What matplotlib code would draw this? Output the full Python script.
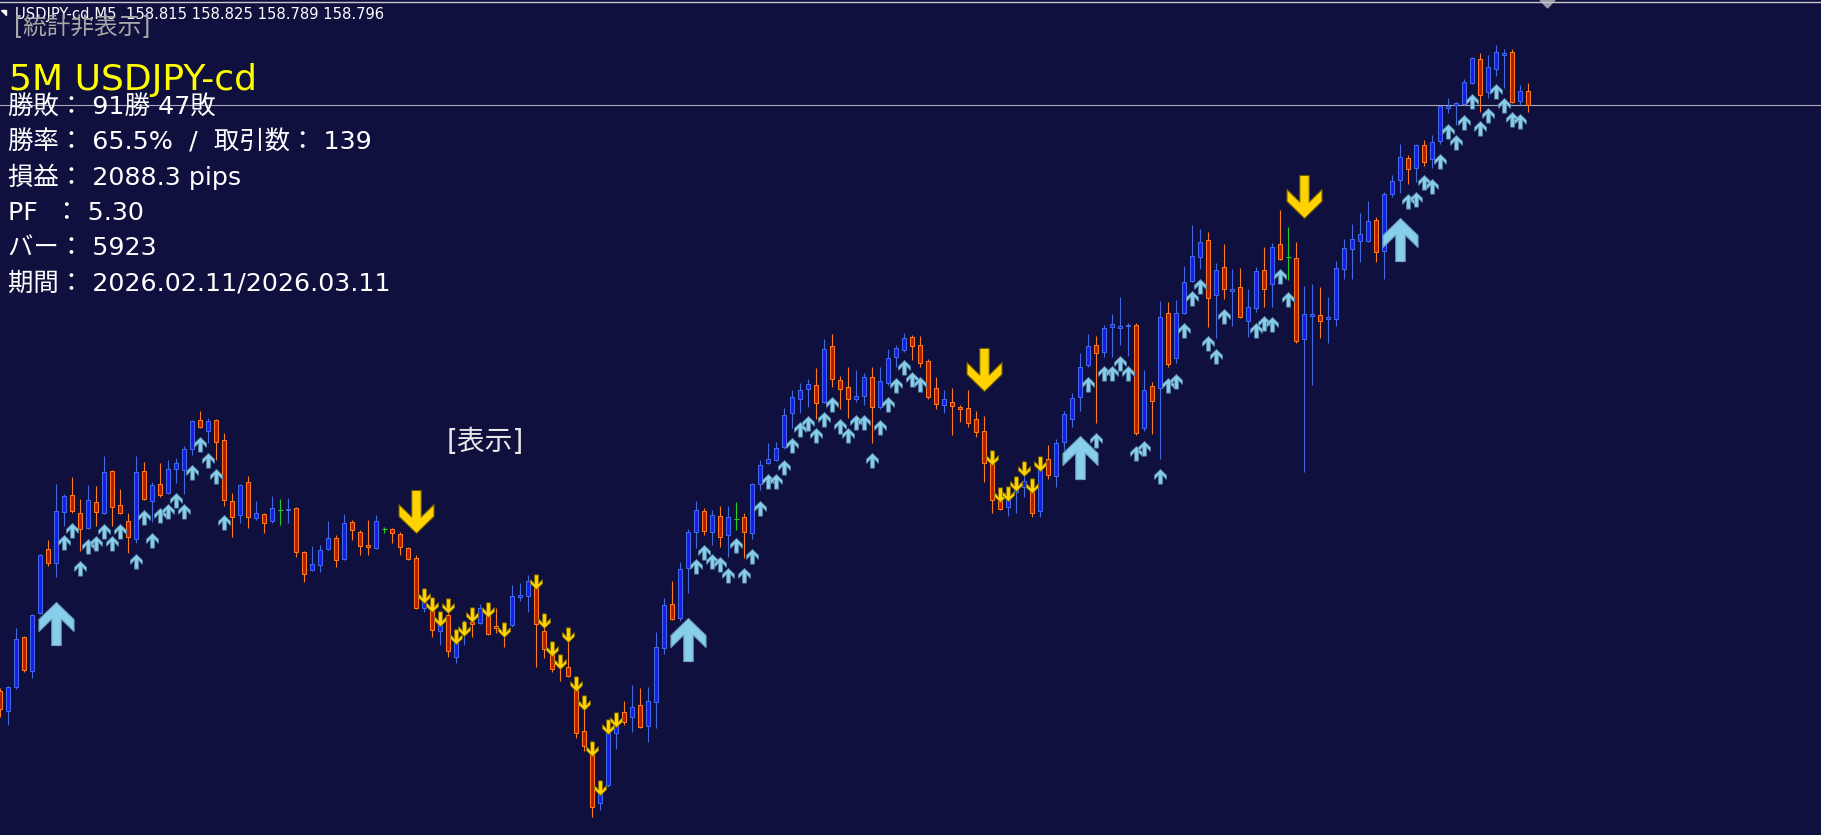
import matplotlib
matplotlib.use("Agg")
import matplotlib.pyplot as plt
from matplotlib.path import Path
import numpy as np

# USDJPY-cd M5 bars, oldest first
bar_open = [
    158.210, 158.190, 158.214, 158.264, 158.230, 158.288, 158.352, 158.338, 158.389, 158.406,
    158.388, 158.373, 158.399, 158.388, 158.430, 158.396, 158.380, 158.362, 158.430, 158.400,
    158.417, 158.408, 158.432, 158.431, 158.452, 158.481, 158.470, 158.481, 158.461, 158.400,
    158.386, 158.419, 158.383, 158.387, 158.380, 158.391, 158.391, 158.393, 158.349, 158.331,
    158.336, 158.352, 158.363, 158.342, 158.379, 158.369, 158.356, 158.353, 158.372, 158.372,
    158.367, 158.353, 158.343, 158.293, 158.292, 158.270, 158.286, 158.244, 158.268, 158.279,
    158.278, 158.288, 158.275, 158.271, 158.276, 158.304, 158.305, 158.314, 158.270, 158.248,
    158.241, 158.234, 158.213, 158.170, 158.147, 158.098, 158.116, 158.168, 158.189, 158.184,
    158.196, 158.175, 158.199, 158.253, 158.297, 158.283, 158.333, 158.369, 158.390, 158.369,
    158.385, 158.366, 158.382, 158.384, 158.368, 158.417, 158.438, 158.441, 158.454, 158.488,
    158.502, 158.512, 158.516, 158.499, 158.555, 158.521, 158.514, 158.502, 158.505, 158.524,
    158.494, 158.518, 158.544, 158.551, 158.564, 158.556, 158.540, 158.513, 158.496, 158.499,
    158.494, 158.493, 158.482, 158.470, 158.439, 158.401, 158.394, 158.409, 158.414, 158.411,
    158.390, 158.442, 158.425, 158.459, 158.482, 158.504, 158.536, 158.556, 158.549, 158.574,
    158.573, 158.575, 158.576, 158.473, 158.515, 158.513, 158.588, 158.543, 158.588, 158.620,
    158.644, 158.661, 158.606, 158.634, 158.610, 158.614, 158.580, 158.593, 158.631, 158.617,
    158.657, 158.644, 158.643, 158.562, 158.585, 158.586, 158.582, 158.582, 158.632, 158.652,
    158.660, 158.660, 158.681, 158.650, 158.707, 158.721, 158.743, 158.733, 158.756, 158.742,
    158.760, 158.793, 158.796, 158.797, 158.818, 158.842, 158.809, 158.832, 158.846, 158.849,
    158.800, 158.810,
]
bar_high = [
    158.213, 158.215, 158.273, 158.265, 158.287, 158.347, 158.361, 158.417, 158.407, 158.424,
    158.402, 158.416, 158.415, 158.445, 158.431, 158.412, 158.388, 158.445, 158.439, 158.419,
    158.438, 158.441, 158.443, 158.455, 158.481, 158.490, 158.483, 158.482, 158.468, 158.408,
    158.417, 158.425, 158.400, 158.388, 158.405, 158.402, 158.403, 158.394, 158.350, 158.355,
    158.356, 158.380, 158.366, 158.387, 158.381, 158.371, 158.381, 158.386, 158.374, 158.373,
    158.369, 158.354, 158.346, 158.301, 158.295, 158.281, 158.289, 158.263, 158.281, 158.284,
    158.297, 158.297, 158.293, 158.275, 158.316, 158.318, 158.326, 158.323, 158.276, 158.253,
    158.246, 158.261, 158.218, 158.196, 158.154, 158.116, 158.174, 158.188, 158.200, 158.216,
    158.213, 158.214, 158.269, 158.303, 158.320, 158.339, 158.372, 158.400, 158.393, 158.391,
    158.395, 158.395, 158.399, 158.388, 158.418, 158.441, 158.458, 158.459, 158.493, 158.511,
    158.518, 158.522, 158.533, 158.562, 158.567, 158.525, 158.534, 158.531, 158.528, 158.534,
    158.534, 158.552, 158.556, 158.568, 158.566, 158.565, 158.542, 158.524, 158.511, 158.513,
    158.496, 158.511, 158.490, 158.485, 158.444, 158.406, 158.411, 158.421, 158.426, 158.418,
    158.436, 158.456, 158.462, 158.490, 158.508, 158.548, 158.567, 158.565, 158.576, 158.587,
    158.604, 158.578, 158.578, 158.531, 158.519, 158.600, 158.599, 158.601, 158.635, 158.676,
    158.672, 158.669, 158.638, 158.657, 158.632, 158.633, 158.612, 158.634, 158.654, 158.658,
    158.691, 158.674, 158.659, 158.615, 158.617, 158.614, 158.604, 158.640, 158.662, 158.677,
    158.688, 158.700, 158.684, 158.709, 158.726, 158.757, 158.746, 158.757, 158.761, 158.766,
    158.796, 158.803, 158.799, 158.822, 158.844, 158.848, 158.846, 158.856, 158.852, 158.852,
    158.816, 158.818,
]
bar_low = [
    158.184, 158.176, 158.212, 158.229, 158.223, 158.287, 158.335, 158.324, 158.375, 158.388,
    158.350, 158.372, 158.375, 158.387, 158.375, 158.387, 158.348, 158.358, 158.401, 158.379,
    158.404, 158.407, 158.418, 158.407, 158.446, 158.473, 158.458, 158.441, 158.395, 158.364,
    158.378, 158.373, 158.381, 158.368, 158.378, 158.376, 158.378, 158.344, 158.319, 158.330,
    158.329, 158.351, 158.334, 158.341, 158.361, 158.346, 158.346, 158.352, 158.368, 158.358,
    158.346, 158.341, 158.292, 158.289, 158.264, 158.256, 158.244, 158.238, 158.256, 158.264,
    158.277, 158.266, 158.268, 158.254, 158.274, 158.300, 158.289, 158.234, 158.243, 158.229,
    158.220, 158.224, 158.163, 158.150, 158.084, 158.091, 158.114, 158.152, 158.176, 158.169,
    158.173, 158.159, 158.173, 158.247, 158.281, 158.280, 158.308, 158.353, 158.366, 158.356,
    158.354, 158.344, 158.371, 158.343, 158.362, 158.411, 158.437, 158.440, 158.452, 158.473,
    158.488, 158.494, 158.482, 158.498, 158.514, 158.492, 158.483, 158.499, 158.496, 158.458,
    158.492, 158.516, 158.534, 158.549, 158.541, 158.534, 158.502, 158.492, 158.488, 158.466,
    158.479, 158.474, 158.464, 158.419, 158.388, 158.391, 158.385, 158.388, 158.404, 158.384,
    158.384, 158.422, 158.414, 158.451, 158.474, 158.490, 158.534, 158.478, 158.544, 158.544,
    158.556, 158.545, 158.466, 158.470, 158.467, 158.442, 158.534, 158.538, 158.587, 158.619,
    158.632, 158.574, 158.563, 158.602, 158.575, 158.583, 158.564, 158.589, 158.594, 158.594,
    158.641, 158.621, 158.558, 158.429, 158.516, 158.563, 158.558, 158.575, 158.622, 158.622,
    158.639, 158.659, 158.639, 158.622, 158.704, 158.708, 158.717, 158.719, 158.735, 158.733,
    158.757, 158.788, 158.776, 158.796, 158.817, 158.789, 158.803, 158.825, 158.813, 158.798,
    158.796, 158.789,
]
bar_close = [
    158.192, 158.214, 158.262, 158.231, 158.286, 158.346, 158.338, 158.390, 158.405, 158.390,
    158.372, 158.401, 158.389, 158.429, 158.394, 158.388, 158.364, 158.429, 158.402, 158.416,
    158.406, 158.432, 158.438, 158.452, 158.480, 158.474, 158.480, 158.459, 158.401, 158.384,
    158.416, 158.384, 158.388, 158.378, 158.393, 158.391, 158.392, 158.349, 158.327, 158.337,
    158.351, 158.363, 158.341, 158.378, 158.371, 158.355, 158.354, 158.380, 158.372, 158.368,
    158.354, 158.342, 158.293, 158.299, 158.271, 158.278, 158.250, 158.259, 158.276, 158.277,
    158.293, 158.267, 158.273, 158.267, 158.305, 158.306, 158.320, 158.277, 158.252, 158.232,
    158.236, 158.225, 158.168, 158.155, 158.094, 158.108, 158.168, 158.175, 158.179, 158.194,
    158.174, 158.200, 158.254, 158.296, 158.282, 158.332, 158.369, 158.391, 158.370, 158.386,
    158.364, 158.384, 158.382, 158.369, 158.417, 158.436, 158.442, 158.453, 158.486, 158.504,
    158.511, 158.517, 158.498, 158.552, 158.522, 158.512, 158.502, 158.505, 158.524, 158.494,
    158.520, 158.543, 158.553, 158.563, 158.555, 158.538, 158.504, 158.497, 158.502, 158.495,
    158.492, 158.478, 158.469, 158.438, 158.401, 158.392, 158.402, 158.413, 158.420, 158.388,
    158.431, 158.426, 158.458, 158.487, 158.503, 158.534, 158.555, 158.548, 158.573, 158.577,
    158.575, 158.576, 158.468, 158.511, 158.500, 158.584, 158.537, 158.588, 158.619, 158.645,
    158.659, 158.603, 158.631, 158.612, 158.612, 158.584, 158.594, 158.630, 158.612, 158.654,
    158.642, 158.644, 158.560, 158.587, 158.587, 158.580, 158.584, 158.633, 158.653, 158.662,
    158.667, 158.680, 158.649, 158.707, 158.720, 158.744, 158.732, 158.756, 158.739, 158.759,
    158.795, 158.795, 158.798, 158.819, 158.843, 158.806, 158.834, 158.849, 158.848, 158.799,
    158.810, 158.796,
]

# small buy signals (arrow tip price under the bar)
buy_bar = [8, 9, 10, 11, 12, 13, 14, 15, 17, 18, 19, 20, 21, 22, 23, 24, 25, 26, 27, 28,
           87, 88, 89, 90, 91, 92, 93, 94, 95, 96, 97, 98, 99, 100, 101, 102, 103, 104,
           105, 106, 107, 108, 109, 110, 111, 112, 113, 114, 115,
           136, 137, 138, 139, 140, 141, 142, 143, 145, 146, 147, 148, 149, 150, 151, 152,
           153, 157, 158, 159, 160, 161,
           176, 177, 178, 179, 180, 181, 182, 183, 184, 185, 186, 187, 188, 189, 190]
buy_price = [158.366, 158.378, 158.340, 158.362, 158.365, 158.377, 158.365, 158.377, 158.347,
             158.391, 158.368, 158.393, 158.397, 158.408, 158.397, 158.436, 158.464, 158.448,
             158.432, 158.386,
             158.342, 158.356, 158.347, 158.344, 158.333, 158.363, 158.333, 158.352, 158.400,
             158.427, 158.427, 158.441, 158.463, 158.479, 158.485, 158.473, 158.489, 158.504,
             158.482, 158.473, 158.486, 158.486, 158.448, 158.481, 158.504, 158.523, 158.541,
             158.529, 158.524,
             158.524, 158.468, 158.535, 158.535, 158.545, 158.535, 158.455, 158.460, 158.432,
             158.523, 158.527, 158.578, 158.610, 158.622, 158.565, 158.552, 158.592, 158.578,
             158.585, 158.584, 158.632, 158.609,
             158.707, 158.709, 158.726, 158.722, 158.747, 158.777, 158.766, 158.786, 158.807,
             158.780, 158.793, 158.817, 158.803, 158.789, 158.787]

# small sell signals (arrow tip price above the bar)
sell_bar = [53, 54, 55, 56, 57, 58, 59, 61, 63, 67, 68, 69, 70, 71, 72, 73, 74, 75, 76, 77,
            124, 125, 126, 127, 128, 129, 130]
sell_price = [158.298, 158.289, 158.275, 158.288, 158.257, 158.265, 158.279, 158.284, 158.264,
              158.312, 158.273, 158.245, 158.232, 158.259, 158.210, 158.191, 158.145, 158.106,
              158.167, 158.174,
              158.436, 158.399, 158.400, 158.410, 158.425, 158.408, 158.430]

# entry signals (big arrows)
entry_buy_bar = [7, 86, 135, 175]
entry_buy_price = [158.299, 158.283, 158.465, 158.683]
entry_sell_bar = [52, 123, 163]
entry_sell_price = [158.368, 158.510, 158.683]

symbol_title = "5M USDJPY-cd"
header = "USDJPY-cd,M5  158.815 158.825 158.789 158.796"
stats_lines = [
    "勝敗： 91勝 47敗",
    "勝率： 65.5%  /  取引数： 139",
    "損益： 2088.3 pips",
    "PF  ： 5.30",
    "バー： 5923",
    "期間： 2026.02.11/2026.03.11",
]

BG = "#10103f"
BULL_FILL, BULL_EDGE = "#1a1af0", "#4169e1"
BEAR_FILL, BEAR_EDGE = "#b01e0a", "#ff7a1e"
DOJI = "#22cc22"
SKY = "#87ceeb"
GOLD = "#ffd200"
JP = ["DejaVu Sans", "Noto Sans CJK JP"]

W, H = 1821, 835
fig = plt.figure(figsize=(W / 100, H / 100), dpi=100, facecolor=BG)
ax = fig.add_axes([0, 0, 1, 1], facecolor=BG)

o = np.array(bar_open)
hi = np.array(bar_high)
lo = np.array(bar_low)
c = np.array(bar_close)
x = np.arange(len(o))
up = c > o
dn = c < o
flat = c == o

# wicks
ax.vlines(x[up], lo[up], hi[up], color=BULL_EDGE, lw=0.8, zorder=2)
ax.vlines(x[dn], lo[dn], hi[dn], color=BEAR_EDGE, lw=0.8, zorder=2)
ax.vlines(x[flat], lo[flat], hi[flat], color=DOJI, lw=0.8, zorder=2)

# bodies
ax.bar(x[up], (c - o)[up], bottom=o[up], width=0.5, color=BULL_FILL,
       edgecolor=BULL_EDGE, linewidth=0.75, zorder=3)
ax.bar(x[dn], (o - c)[dn], bottom=c[dn], width=0.5, color=BEAR_FILL,
       edgecolor=BEAR_EDGE, linewidth=0.75, zorder=3)
ax.hlines(c[flat], x[flat] - 0.3, x[flat] + 0.3, color=DOJI, lw=0.8, zorder=3)

# bid line
ax.axhline(c[-1], color="#a8a8b8", lw=0.8, zorder=1)


def arrow_marker(direction, shaft=4.7):
    # wingdings style arrow, tip at the origin (pixel units)
    pts = [(0, 0), (17.5, -17), (17.5, -29), (shaft, -16.5), (shaft, -43),
           (-shaft, -43), (-shaft, -16.5), (-17.5, -29), (-17.5, -17), (0, 0)]
    if direction == "down":
        pts = [(px, -py) for px, py in pts]
    return Path(pts, closed=True)


ax.plot(buy_bar, buy_price, ls="none", marker=arrow_marker("up", 5.5), ms=21,
        mfc=SKY, mec="#5b89a8", mew=0.6, zorder=5)
ax.plot(sell_bar, sell_price, ls="none", marker=arrow_marker("down", 5.5), ms=21,
        mfc=GOLD, mec="#8a7000", mew=0.6, zorder=5)
ax.plot(entry_buy_bar, entry_buy_price, ls="none", marker=arrow_marker("up"), ms=62,
        mfc=SKY, mec="#6f9fbf", mew=0.8, zorder=6)
ax.plot(entry_sell_bar, entry_sell_price, ls="none", marker=arrow_marker("down"), ms=62,
        mfc=GOLD, mec="#6b5a00", mew=0.8, zorder=6)

ax.set_xlim(-0.0375, -0.0375 + W / 8)
ax.set_ylim(158.901 - H / 1000, 158.901)
ax.axis("off")


def fx(px):
    return px / W


def fy(py):
    return 1 - py / H


# window decorations
fig.add_artist(plt.Line2D([0, 1], [fy(1.5), fy(1.5)], color="#c8c8d0", lw=1))
fig.add_artist(plt.Polygon([[fx(1540), fy(0)], [fx(1555), fy(0)], [fx(1547.5), fy(8)]],
                           closed=True, color="#9a9aa8"))
fig.add_artist(plt.Polygon([[fx(1), fy(10)], [fx(6), fy(10)], [fx(6), fy(15)]],
                           closed=True, color="white"))

fig.text(fx(15), fy(19), header, color="white", fontsize=10.6, family=JP, va="baseline")
fig.text(fx(14), fy(34), "[統計非表示]", color="#a8a8a8", fontsize=17, family=JP,
         va="baseline")
fig.text(fx(9), fy(90), symbol_title, color="#ffff00", fontsize=26, family=JP,
         va="baseline")
for k, line in enumerate(stats_lines):
    fig.text(fx(8), fy(115 + 35 * k), line, color="white", fontsize=18.3, family=JP,
             va="baseline")
fig.text(fx(447), fy(450), "[表示]", color="#e8e8e8", fontsize=20, family=JP,
         va="baseline")

fig.savefig("out.png", dpi=100, facecolor=BG)
